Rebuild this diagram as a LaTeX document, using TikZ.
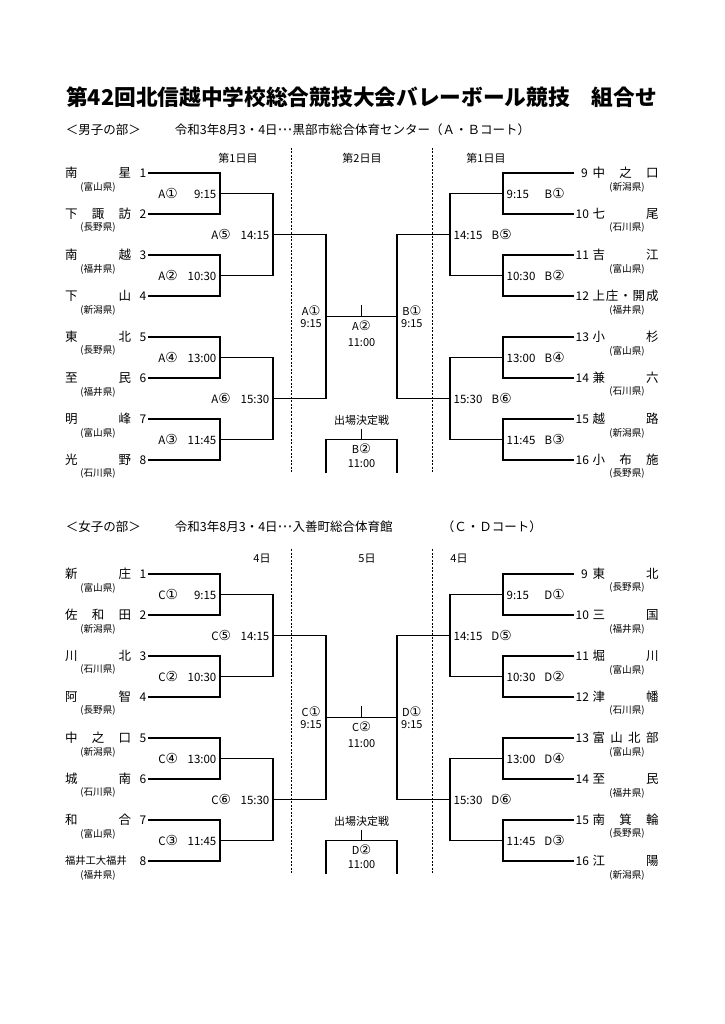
\documentclass[tikz,border=0pt]{standalone}
\usepackage{fontspec}
\setmainfont{Noto Sans CJK JP}
\newfontfamily\marufont{DejaVu Sans}[Scale=1.2]
\newcommand\maru[1]{{\marufont #1}}
\begin{document}
\begin{tikzpicture}[x=1pt, y=-1pt, line width=1.3pt,
team node/.style={text width=66pt, align=left, inner sep=0pt, font=\fontsize{12.5}{14}\selectfont},
num node/.style={inner sep=1pt, anchor=east, font=\fontsize{12}{14}\selectfont},
rnum node/.style={inner sep=1pt, anchor=west, text width=12pt, align=right, font=\fontsize{12}{14}\selectfont},
pref node/.style={inner sep=0pt, font=\fontsize{9.6}{11}\selectfont},
game node/.style={text width=58pt, align=left, inner sep=3pt, font=\fontsize{11.5}{13}\selectfont},
semi node/.style={align=center, inner sep=3.5pt, font=\fontsize{11}{12}\selectfont},
day node/.style={font=\fontsize{11}{12}\selectfont},
day line/.style={line width=0.8pt, dash pattern=on 2pt off 1.5pt}]
\useasboundingbox (0,0) rectangle (724,1024);
\node[font=\fontsize{21.7}{24}\selectfont\bfseries] (title) at (361.5,97) {第42回北信越中学校総合競技大会バレーボール競技　組合せ};
%
% ---- boys ----
\node[anchor=west, font=\fontsize{12.5}{14}\selectfont] (bhead) at (62,130) {＜男子の部＞};
\node[anchor=west, font=\fontsize{12.5}{14}\selectfont] (bplace) at (171,130) {令和3年8月3・4日\maru{⋯}黒部市総合体育センター（Ａ・Ｂコート）};
\node[day node] (bday1) at (238,158) {第1日目};
\node[day node] (bday2) at (362,158) {第2日目};
\node[day node] (bday3) at (486,158) {第1日目};
\coordinate (bl1) at (291,148); \coordinate (bl2) at (291,473);
\coordinate (bl3) at (432,148); \coordinate (bl4) at (432,473);
\draw[day line] (bl1) -- (bl2);
\draw[day line] (bl3) -- (bl4);
%
\node[team node] (m1t) at (98,173) {南\hfill 星};
\node[num node] (m1) at (148,173) {1};
\node[pref node] at (98,187) {(富山県)};
\node[team node] (m2t) at (98,214) {下\hfill 諏\hfill 訪};
\node[num node] (m2) at (148,214) {2};
\node[pref node] at (98,228) {(長野県)};
\node[team node] (m3t) at (98,255) {南\hfill 越};
\node[num node] (m3) at (148,255) {3};
\node[pref node] at (98,269) {(福井県)};
\node[team node] (m4t) at (98,296) {下\hfill 山};
\node[num node] (m4) at (148,296) {4};
\node[pref node] at (98,310) {(新潟県)};
\node[team node] (m5t) at (98,337) {東\hfill 北};
\node[num node] (m5) at (148,337) {5};
\node[pref node] at (98,351) {(長野県)};
\node[team node] (m6t) at (98,378) {至\hfill 民};
\node[num node] (m6) at (148,378) {6};
\node[pref node] at (98,392) {(福井県)};
\node[team node] (m7t) at (98,419) {明\hfill 峰};
\node[num node] (m7) at (148,419) {7};
\node[pref node] at (98,433) {(富山県)};
\node[team node] (m8t) at (98,460) {光\hfill 野};
\node[num node] (m8) at (148,460) {8};
\node[pref node] at (98,474) {(石川県)};
%
\node[rnum node] (m9) at (574,173) {9};
\node[team node] (m9t) at (625.5,173) {中\hfill 之\hfill 口};
\node[pref node] at (627,187) {(新潟県)};
\node[rnum node] (m10) at (574,214) {10};
\node[team node] (m10t) at (625.5,214) {七\hfill 尾};
\node[pref node] at (627,228) {(石川県)};
\node[rnum node] (m11) at (574,255) {11};
\node[team node] (m11t) at (625.5,255) {吉\hfill 江};
\node[pref node] at (627,269) {(富山県)};
\node[rnum node] (m12) at (574,296) {12};
\node[team node] (m12t) at (625.5,296) {上\hfill 庄\hfill ・\hfill 開\hfill 成};
\node[pref node] at (627,310) {(福井県)};
\node[rnum node] (m13) at (574,337) {13};
\node[team node] (m13t) at (625.5,337) {小\hfill 杉};
\node[pref node] at (627,351) {(富山県)};
\node[rnum node] (m14) at (574,378) {14};
\node[team node] (m14t) at (625.5,378) {兼\hfill 六};
\node[pref node] at (627,392) {(石川県)};
\node[rnum node] (m15) at (574,419) {15};
\node[team node] (m15t) at (625.5,419) {越\hfill 路};
\node[pref node] at (627,433) {(新潟県)};
\node[rnum node] (m16) at (574,460) {16};
\node[team node] (m16t) at (625.5,460) {小\hfill 布\hfill 施};
\node[pref node] at (627,474) {(長野県)};
%
\coordinate (a1) at (220,193.5); \coordinate (a2) at (220,275.5);
\coordinate (a4) at (220,357.5); \coordinate (a3) at (220,439.5);
\coordinate (a5) at (273,234.5); \coordinate (a6) at (273,398.5);
\coordinate (sa) at (326,316.5); \coordinate (sb) at (397,316.5);
\coordinate (b5) at (450,234.5); \coordinate (b6) at (450,398.5);
\coordinate (b1) at (503,193.5); \coordinate (b2) at (503,275.5);
\coordinate (b4) at (503,357.5); \coordinate (b3) at (503,439.5);
\coordinate (fa) at (361.5,316.5); \coordinate (fat) at (361.5,305);
\coordinate (qa) at (361.5,439.5); \coordinate (qal) at (326,473); \coordinate (qar) at (397,473);
%
\draw (m1.east) -| (a1); \draw (m2.east) -| (a1);
\draw (m3.east) -| (a2); \draw (m4.east) -| (a2);
\draw (m5.east) -| (a4); \draw (m6.east) -| (a4);
\draw (m7.east) -| (a3); \draw (m8.east) -| (a3);
\draw (a1) -| (a5); \draw (a2) -| (a5);
\draw (a4) -| (a6); \draw (a3) -| (a6);
\draw (a5) -| (sa); \draw (a6) -| (sa);
\draw (m9.west) -| (b1); \draw (m10.west) -| (b1);
\draw (m11.west) -| (b2); \draw (m12.west) -| (b2);
\draw (m13.west) -| (b4); \draw (m14.west) -| (b4);
\draw (m15.west) -| (b3); \draw (m16.west) -| (b3);
\draw (b1) -| (b5); \draw (b2) -| (b5);
\draw (b4) -| (b6); \draw (b3) -| (b6);
\draw (b5) -| (sb); \draw (b6) -| (sb);
\draw (sa) -- (sb);
\draw (fa) -- (fat);
\node[game node, anchor=east] at (a1) {A\maru{①}\hfill 9:15};
\node[game node, anchor=east] at (a2) {A\maru{②}\hfill 10:30};
\node[game node, anchor=east] at (a4) {A\maru{④}\hfill 13:00};
\node[game node, anchor=east] at (a3) {A\maru{③}\hfill 11:45};
\node[game node, anchor=east] at (a5) {A\maru{⑤}\hfill 14:15};
\node[game node, anchor=east] at (a6) {A\maru{⑥}\hfill 15:30};
\node[game node, anchor=west] at (b1) {9:15\hfill B\maru{①}};
\node[game node, anchor=west] at (b2) {10:30\hfill B\maru{②}};
\node[game node, anchor=west] at (b4) {13:00\hfill B\maru{④}};
\node[game node, anchor=west] at (b3) {11:45\hfill B\maru{③}};
\node[game node, anchor=west] at (b5) {14:15\hfill B\maru{⑤}};
\node[game node, anchor=west] at (b6) {15:30\hfill B\maru{⑥}};
\node[semi node, anchor=east] at (sa) {A\maru{①}\\9:15};
\node[semi node, anchor=west] at (sb) {B\maru{①}\\9:15};
\node[semi node, anchor=north] at (fa) {A\maru{②}\\[4pt]11:00};
\node[semi node] (bq) at (361.5,420) {出場決定戦};
\draw (bq.south) -- (qa);
\draw (qal) |- (qa) -| (qar);
\node[semi node, anchor=north] at (qa) {B\maru{②}\\[2pt]11:00};
%
% ---- girls ----
\node[anchor=west, font=\fontsize{12.5}{14}\selectfont] (ghead) at (62,527) {＜女子の部＞};
\node[anchor=west, font=\fontsize{12.5}{14}\selectfont] (gplace) at (171,527) {令和3年8月3・4日\maru{⋯}入善町総合体育館};
\node[anchor=west, font=\fontsize{12.5}{14}\selectfont] (gcourt) at (438,527) {（Ｃ・Ｄコート）};
\node[day node] (gday1) at (262,559) {4日};
\node[day node] (gday2) at (367,559) {5日};
\node[day node] (gday3) at (459,559) {4日};
\coordinate (gl1) at (291,549); \coordinate (gl2) at (291,874);
\coordinate (gl3) at (432,549); \coordinate (gl4) at (432,874);
\draw[day line] (gl1) -- (gl2);
\draw[day line] (gl3) -- (gl4);
%
\node[team node] (w1t) at (98,574) {新\hfill 庄};
\node[num node] (w1) at (148,574) {1};
\node[pref node] at (98,588) {(富山県)};
\node[team node] (w2t) at (98,615) {佐\hfill 和\hfill 田};
\node[num node] (w2) at (148,615) {2};
\node[pref node] at (98,629) {(新潟県)};
\node[team node] (w3t) at (98,656) {川\hfill 北};
\node[num node] (w3) at (148,656) {3};
\node[pref node] at (98,670) {(石川県)};
\node[team node] (w4t) at (98,697) {阿\hfill 智};
\node[num node] (w4) at (148,697) {4};
\node[pref node] at (98,711) {(長野県)};
\node[team node] (w5t) at (98,738) {中\hfill 之\hfill 口};
\node[num node] (w5) at (148,738) {5};
\node[pref node] at (98,752) {(新潟県)};
\node[team node] (w6t) at (98,779) {城\hfill 南};
\node[num node] (w6) at (148,779) {6};
\node[pref node] at (98,793) {(石川県)};
\node[team node] (w7t) at (98,820) {和\hfill 合};
\node[num node] (w7) at (148,820) {7};
\node[pref node] at (98,834) {(富山県)};
\node[team node, font=\fontsize{10.3}{12}\selectfont] (w8t) at (98,861) {福井工大福井};
\node[num node] (w8) at (148,861) {8};
\node[pref node] at (98,875) {(福井県)};
%
\node[rnum node] (w9) at (574,574) {9};
\node[team node] (w9t) at (625.5,574) {東\hfill 北};
\node[pref node] at (627,588) {(長野県)};
\node[rnum node] (w10) at (574,615) {10};
\node[team node] (w10t) at (625.5,615) {三\hfill 国};
\node[pref node] at (627,629) {(福井県)};
\node[rnum node] (w11) at (574,656) {11};
\node[team node] (w11t) at (625.5,656) {堀\hfill 川};
\node[pref node] at (627,670) {(富山県)};
\node[rnum node] (w12) at (574,697) {12};
\node[team node] (w12t) at (625.5,697) {津\hfill 幡};
\node[pref node] at (627,711) {(石川県)};
\node[rnum node] (w13) at (574,738) {13};
\node[team node] (w13t) at (625.5,738) {富\hfill 山\hfill 北\hfill 部};
\node[pref node] at (627,752) {(富山県)};
\node[rnum node] (w14) at (574,779) {14};
\node[team node] (w14t) at (625.5,779) {至\hfill 民};
\node[pref node] at (627,793) {(福井県)};
\node[rnum node] (w15) at (574,820) {15};
\node[team node] (w15t) at (625.5,820) {南\hfill 箕\hfill 輪};
\node[pref node] at (627,834) {(長野県)};
\node[rnum node] (w16) at (574,861) {16};
\node[team node] (w16t) at (625.5,861) {江\hfill 陽};
\node[pref node] at (627,875) {(新潟県)};
%
\coordinate (c1) at (220,594.5); \coordinate (c2) at (220,676.5);
\coordinate (c4) at (220,758.5); \coordinate (c3) at (220,840.5);
\coordinate (c5) at (273,635.5); \coordinate (c6) at (273,799.5);
\coordinate (sc) at (326,717.5); \coordinate (sd) at (397,717.5);
\coordinate (d5) at (450,635.5); \coordinate (d6) at (450,799.5);
\coordinate (d1) at (503,594.5); \coordinate (d2) at (503,676.5);
\coordinate (d4) at (503,758.5); \coordinate (d3) at (503,840.5);
\coordinate (fc) at (361.5,717.5); \coordinate (fct) at (361.5,706);
\coordinate (qc) at (361.5,840.5); \coordinate (qcl) at (326,874); \coordinate (qcr) at (397,874);
%
\draw (w1.east) -| (c1); \draw (w2.east) -| (c1);
\draw (w3.east) -| (c2); \draw (w4.east) -| (c2);
\draw (w5.east) -| (c4); \draw (w6.east) -| (c4);
\draw (w7.east) -| (c3); \draw (w8.east) -| (c3);
\draw (c1) -| (c5); \draw (c2) -| (c5);
\draw (c4) -| (c6); \draw (c3) -| (c6);
\draw (c5) -| (sc); \draw (c6) -| (sc);
\draw (w9.west) -| (d1); \draw (w10.west) -| (d1);
\draw (w11.west) -| (d2); \draw (w12.west) -| (d2);
\draw (w13.west) -| (d4); \draw (w14.west) -| (d4);
\draw (w15.west) -| (d3); \draw (w16.west) -| (d3);
\draw (d1) -| (d5); \draw (d2) -| (d5);
\draw (d4) -| (d6); \draw (d3) -| (d6);
\draw (d5) -| (sd); \draw (d6) -| (sd);
\draw (sc) -- (sd);
\draw (fc) -- (fct);
\node[game node, anchor=east] at (c1) {C\maru{①}\hfill 9:15};
\node[game node, anchor=east] at (c2) {C\maru{②}\hfill 10:30};
\node[game node, anchor=east] at (c4) {C\maru{④}\hfill 13:00};
\node[game node, anchor=east] at (c3) {C\maru{③}\hfill 11:45};
\node[game node, anchor=east] at (c5) {C\maru{⑤}\hfill 14:15};
\node[game node, anchor=east] at (c6) {C\maru{⑥}\hfill 15:30};
\node[game node, anchor=west] at (d1) {9:15\hfill D\maru{①}};
\node[game node, anchor=west] at (d2) {10:30\hfill D\maru{②}};
\node[game node, anchor=west] at (d4) {13:00\hfill D\maru{④}};
\node[game node, anchor=west] at (d3) {11:45\hfill D\maru{③}};
\node[game node, anchor=west] at (d5) {14:15\hfill D\maru{⑤}};
\node[game node, anchor=west] at (d6) {15:30\hfill D\maru{⑥}};
\node[semi node, anchor=east] at (sc) {C\maru{①}\\9:15};
\node[semi node, anchor=west] at (sd) {D\maru{①}\\9:15};
\node[semi node, anchor=north] at (fc) {C\maru{②}\\[4pt]11:00};
\node[semi node] (gq) at (361.5,821) {出場決定戦};
\draw (gq.south) -- (qc);
\draw (qcl) |- (qc) -| (qcr);
\node[semi node, anchor=north] at (qc) {D\maru{②}\\[2pt]11:00};
\end{tikzpicture}
\end{document}
